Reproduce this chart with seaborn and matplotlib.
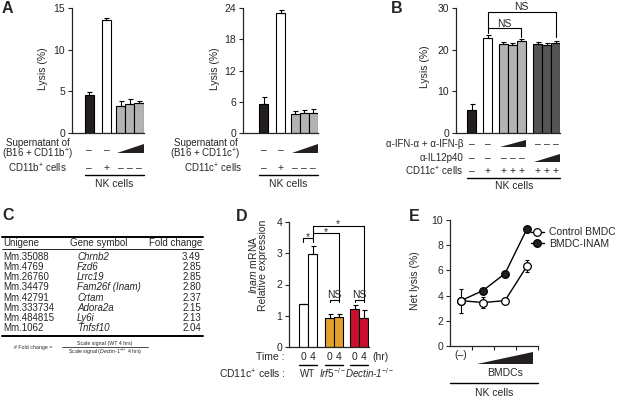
import numpy as np
import pandas as pd
import matplotlib
matplotlib.use("Agg")
import matplotlib.pyplot as plt
import matplotlib.transforms as mtrans
from matplotlib.patches import Polygon
from matplotlib.lines import Line2D
import seaborn as sns

# ------------------------------------------------------------------ data
# Panel A (left): NK cells + CD11b+ cells / supernatant
a1_groups = ["NK", "NK + CD11b", "Sup low", "Sup mid", "Sup high"]
a1_lysis = [4.6, 13.6, 3.3, 3.5, 3.6]
a1_err = [0.3, 0.15, 0.5, 0.6, 0.3]
a1_yticks = [0, 5, 10, 15]

# Panel A (right): NK cells + CD11c+ cells / supernatant
a2_groups = ["NK", "NK + CD11c", "Sup low", "Sup mid", "Sup high"]
a2_lysis = [5.5, 23.0, 3.7, 3.8, 3.9]
a2_err = [1.5, 0.6, 0.5, 0.7, 0.8]
a2_yticks = [0, 6, 12, 18, 24]

# Panel B: blocking antibodies
b_groups = ["NK", "NK + CD11c", "IFN low", "IFN mid", "IFN high",
            "IL12 low", "IL12 mid", "IL12 high"]
b_lysis = [5.5, 22.8, 21.3, 21.1, 22.0, 21.4, 21.1, 21.5]
b_err = [1.5, 0.7, 0.5, 0.6, 0.5, 0.4, 0.6, 0.7]
b_yticks = [0, 10, 20, 30]

# Panel C: table
c_header = ["Unigene", "Gene symbol", "Fold change"]
c_unigene = ["Mm.35088", "Mm.4769", "Mm.26760", "Mm.34479",
             "Mm.42791", "Mm.333734", "Mm.484815", "Mm.1062"]
c_symbol = ["Chrnb2", "Fzd6", "Lrrc19", "Fam26f (Inam)",
            "Crtam", "Adora2a", "Ly6i", "Tnfsf10"]
c_fold = ["3.49", "2.85", "2.85", "2.80", "2.37", "2.15", "2.13", "2.04"]

# Panel D: Inam mRNA
d_groups = ["WT 0", "WT 4", "Irf5 0", "Irf5 4", "Dectin 0", "Dectin 4"]
d_time = ["0", "4", "0", "4", "0", "4"]
d_expr = [1.37, 2.97, 0.93, 0.96, 1.21, 0.92]
d_err = [0.0, 0.27, 0.13, 0.09, 0.13, 0.28]
d_strains = ["WT", "$\\mathit{Irf5}^{-/-}$", "Dectin-1$^{-/-}$"]
d_yticks = [0, 1, 2, 3, 4]

# Panel E: net lysis vs BMDC dose
e_dose = [0, 1, 2, 3]
e_control = [3.6, 3.45, 3.6, 6.35]
e_control_err = [0.95, 0.45, 0.0, 0.45]
e_inam = [3.6, 4.4, 5.75, 9.3]
e_inam_err = [0.0, 0.2, 0.0, 0.0]
e_yticks = [0, 2, 4, 6, 8, 10]

# ------------------------------------------------------------------ style
sns.set_style("ticks")
plt.rcParams["font.family"] = ["Liberation Sans", "DejaVu Sans"]
plt.rcParams["mathtext.fontset"] = "custom"
plt.rcParams["mathtext.rm"] = "Liberation Sans"
plt.rcParams["mathtext.it"] = "Liberation Sans:italic"
plt.rcParams["mathtext.bf"] = "Liberation Sans:bold"
plt.rcParams["mathtext.sf"] = "Liberation Sans"
FS = 7.5
FT = 7

BLACK = "#231f20"
GREY = "#b3b3b3"
DARK = "#555555"
ORANGE = "#e3a02f"
RED = "#c8102e"

W, H = 617, 397
fig = plt.figure(figsize=(W / 100, H / 100), dpi=100)
fig.patch.set_facecolor("white")
pix = mtrans.Affine2D().scale(1 / W, -1 / H).translate(0, 1) + fig.transFigure


def add_ax(x0, y0, x1, y1):
    return fig.add_axes([x0 / W, 1 - y1 / H, (x1 - x0) / W, (y1 - y0) / H])


def xt(ax):
    return mtrans.blended_transform_factory(ax.transData, pix)


def style(ax, yticks):
    sns.despine(ax=ax)
    for s in ("left", "bottom"):
        ax.spines[s].set_linewidth(0.9)
    ax.set_yticks(yticks)
    ax.set_ylim(yticks[0], yticks[-1])
    ax.tick_params(axis="y", length=3, width=0.8, pad=2, labelsize=FS)
    ax.tick_params(axis="x", length=0, labelbottom=False)
    ax.set_xlabel("")
    ax.set_ylabel("")


def bars(ax, pos, vals, err, colors, labels):
    df = pd.DataFrame({"pos": pos, "val": vals, "grp": labels})
    sns.barplot(data=df, x="pos", y="val", hue="grp",
                palette=dict(zip(labels, colors)), native_scale=True,
                width=1.0, errorbar=None, edgecolor="black", linewidth=0.8,
                saturation=1, legend=False, ax=ax)
    ax.errorbar(pos, vals, yerr=[np.zeros(len(err)), err], fmt="none",
                ecolor="black", elinewidth=0.8, capsize=1.8, capthick=0.8,
                zorder=3)


def sign(ax, x, y, s, fs=FS, **kw):
    ax.text(x, y, s, transform=xt(ax), ha="center", va="center",
            fontsize=fs, clip_on=False, **kw)


def wedge(ax, xl, xr, ytop, ybot):
    p = Polygon([(xl, ybot), (xr, ybot), (xr, ytop)], closed=True,
                transform=xt(ax), facecolor=BLACK, edgecolor="none",
                clip_on=False)
    ax.add_artist(p)


def hline(ax, xl, xr, y, lw=1.0):
    ax.add_artist(Line2D([xl, xr], [y, y], transform=xt(ax), color="black",
                         lw=lw, clip_on=False))


def letter(x, y, s):
    fig.text(x, y, s, transform=pix, fontsize=11.5, fontweight="bold",
             ha="left", va="top")


# ------------------------------------------------------------------ Panel A1
pos_a = [0, 1.9, 3.5, 4.5, 5.5]
ax = add_ax(72, 8, 144, 133)
bars(ax, pos_a, a1_lysis, a1_err, [BLACK, "white", GREY, GREY, GREY], a1_groups)
style(ax, a1_yticks)
ax.set_xlim(-1.9, 6.05)
fig.text(43, 69, "Lysis (%)", transform=pix, rotation=90, ha="center",
         va="center", fontsize=FS)
for p, s in zip(pos_a[:2], ["–", "–"]):
    sign(ax, p, 150, s)
wedge(ax, pos_a[2] - 0.4, pos_a[4] + 0.5, 144, 153)
for p, s in zip(pos_a, ["–", "+", "–", "–", "–"]):
    sign(ax, p, 168, s)
hline(ax, pos_a[0] - 0.5, pos_a[-1] + 0.5, 175)
sign(ax, (pos_a[0] + pos_a[-1]) / 2, 184, "NK cells")
fig.text(73, 150, "Supernatant of\n(B16 + CD11b$^{+}$)", transform=pix,
         ha="right", va="center", multialignment="center", fontsize=FT,
         linespacing=0.9)
fig.text(67, 168, "CD11b$^{+}$ cells", transform=pix, ha="right",
         va="center", fontsize=FT)
letter(2, 1, "A")

# ------------------------------------------------------------------ Panel A2
ax = add_ax(243, 8, 318, 133)
bars(ax, pos_a, a2_lysis, a2_err, [BLACK, "white", GREY, GREY, GREY], a2_groups)
style(ax, a2_yticks)
ax.set_xlim(-2.33, 6.05)
fig.text(215, 69, "Lysis (%)", transform=pix, rotation=90, ha="center",
         va="center", fontsize=FS)
for p, s in zip(pos_a[:2], ["–", "–"]):
    sign(ax, p, 150, s)
wedge(ax, pos_a[2] - 0.4, pos_a[4] + 0.5, 144, 153)
for p, s in zip(pos_a, ["–", "+", "–", "–", "–"]):
    sign(ax, p, 168, s)
hline(ax, pos_a[0] - 0.5, pos_a[-1] + 0.5, 175)
sign(ax, (pos_a[0] + pos_a[-1]) / 2, 184, "NK cells")
fig.text(241, 150, "Supernatant of\n(B16 + CD11c$^{+}$)", transform=pix,
         ha="right", va="center", multialignment="center", fontsize=FT,
         linespacing=0.9)
fig.text(242, 168, "CD11c$^{+}$ cells", transform=pix, ha="right",
         va="center", fontsize=FT)

# ------------------------------------------------------------------ Panel B
pos_b = [0, 1.75, 3.5, 4.5, 5.5, 7.3, 8.3, 9.3]
ax = add_ax(456, 8, 560, 133)
bars(ax, pos_b, b_lysis, b_err,
     [BLACK, "white", GREY, GREY, GREY, DARK, DARK, DARK], b_groups)
style(ax, b_yticks)
ax.set_xlim(-1.78, 9.8)
fig.text(425, 67, "Lysis (%)", transform=pix, rotation=90, ha="center",
         va="center", fontsize=FS)
kw = dict(color="black", lw=0.8, clip_on=False)
ax.plot([pos_b[1], pos_b[1], pos_b[4], pos_b[4]], [24.0, 25.2, 25.2, 23.0], **kw)
ax.plot([pos_b[1], pos_b[1], pos_b[7], pos_b[7]], [25.2, 29.0, 29.0, 23.0], **kw)
ax.text((pos_b[1] + pos_b[4]) / 2, 26.1, "NS", ha="center", va="center",
        fontsize=FS, clip_on=False)
ax.text((pos_b[1] + pos_b[7]) / 2, 30.3, "NS", ha="center", va="center",
        fontsize=FS, clip_on=False)
ax.set_ylim(0, 30)
for p, s in zip(pos_b[:2] + pos_b[5:], ["–", "–", "–", "–", "–"]):
    sign(ax, p, 144, s)
wedge(ax, pos_b[2] - 0.4, pos_b[4] + 0.5, 140, 147)
for p, s in zip(pos_b[:5], ["–", "–", "–", "–", "–"]):
    sign(ax, p, 158, s)
wedge(ax, pos_b[5] - 0.4, pos_b[7] + 0.5, 154, 162)
for p, s in zip(pos_b, ["–", "+", "+", "+", "+", "+", "+", "+"]):
    sign(ax, p, 171, s)
hline(ax, pos_b[0] - 0.5, pos_b[-1] + 0.5, 178)
sign(ax, (pos_b[0] + pos_b[-1]) / 2, 186, "NK cells")
fig.text(464, 144, "α-IFN-α + α-IFN-β", transform=pix, ha="right",
         va="center", fontsize=FT)
fig.text(463, 158, "α-IL12p40", transform=pix, ha="right", va="center",
         fontsize=FT)
fig.text(463, 171, "CD11c$^{+}$ cells", transform=pix, ha="right",
         va="center", fontsize=FT)
letter(391, 1, "B")

# ------------------------------------------------------------------ Panel C
letter(2, 208, "C")
fig.add_artist(Line2D([2, 203], [237, 237], transform=pix, color="black", lw=1.4))
fig.add_artist(Line2D([2, 203], [248.5, 248.5], transform=pix, color="black", lw=0.6))
fig.add_artist(Line2D([2, 203], [336, 336], transform=pix, color="black", lw=1.4))
fig.text(3, 243, c_header[0], transform=pix, ha="left", va="center", fontsize=FT)
fig.text(70, 243, c_header[1], transform=pix, ha="left", va="center", fontsize=FT)
fig.text(202, 243, c_header[2], transform=pix, ha="right", va="center", fontsize=FT)
for i, (u, g, f) in enumerate(zip(c_unigene, c_symbol, c_fold)):
    y = 257 + 10.15 * i
    fig.text(3, y, u, transform=pix, ha="left", va="center", fontsize=FT)
    fig.text(77, y, g, transform=pix, ha="left", va="center", fontsize=FT,
             style="italic")
    fig.text(201, y, f, transform=pix, ha="right", va="center", fontsize=FT)
fig.text(14, 347, "# Fold change =", transform=pix, ha="left", va="center",
         fontsize=3.8)
fig.text(105, 343, "Scale signal (WT 4 hrs)", transform=pix, ha="center",
         va="center", fontsize=3.8)
fig.text(105, 351.5, "Scale signal ($\\mathit{Dectin}$-$\\mathit{1}^{-/-}$ 4 hrs)",
         transform=pix, ha="center", va="center", fontsize=3.8)
fig.add_artist(Line2D([62, 148], [347, 347], transform=pix, color="black", lw=0.5))

# ------------------------------------------------------------------ Panel D
pos_d = [0, 1, 2.9, 3.9, 5.65, 6.65]
ax = add_ax(289, 222, 369, 347)
bars(ax, pos_d, d_expr, d_err, ["white", "white", ORANGE, ORANGE, RED, RED],
     d_groups)
style(ax, d_yticks)
ax.set_xlim(-1.6, 7.25)
fig.text(253, 265, "$\\mathit{Inam}$ mRNA", transform=pix, rotation=90,
         ha="center", va="center", fontsize=FS)
fig.text(263, 265, "Relative expression", transform=pix, rotation=90,
         ha="center", va="center", fontsize=FS)
kw = dict(color="black", lw=0.8, clip_on=False)
ax.plot([pos_d[0], pos_d[0], pos_d[1], pos_d[1]], [3.37, 3.48, 3.48, 3.37], **kw)
ax.text((pos_d[0] + pos_d[1]) / 2, 3.52, "*", ha="center", va="center",
        fontsize=FS, clip_on=False)
ax.plot([pos_d[1], pos_d[1], pos_d[3], pos_d[3]], [3.48, 3.64, 3.64, 1.5], **kw)
ax.text((pos_d[1] + pos_d[3]) / 2, 3.69, "*", ha="center", va="center",
        fontsize=FS, clip_on=False)
ax.plot([pos_d[1], pos_d[1], pos_d[5], pos_d[5]], [3.64, 3.88, 3.88, 1.5], **kw)
ax.text((pos_d[1] + pos_d[5]) / 2, 3.93, "*", ha="center", va="center",
        fontsize=FS, clip_on=False)
for i in (2, 4):
    ax.plot([pos_d[i], pos_d[i], pos_d[i + 1], pos_d[i + 1]],
            [1.43, 1.5, 1.5, 1.43], **kw)
    ax.text((pos_d[i] + pos_d[i + 1]) / 2, 1.68, "NS", ha="center",
            va="center", fontsize=FS, clip_on=False)
ax.set_ylim(0, 4)
for p, s in zip(pos_d, d_time):
    sign(ax, p, 357, s)
fig.text(372, 357, "(hr)", transform=pix, ha="left", va="center", fontsize=FS)
fig.text(284, 357.5, "Time :", transform=pix, ha="right", va="center", fontsize=FS)
fig.text(286, 374, "CD11c$^{+}$ cells :", transform=pix, ha="right",
         va="center", fontsize=FS)
for i in (0, 2, 4):
    hline(ax, pos_d[i] - 0.5, pos_d[i + 1] + 0.5, 364.5, lw=1.0)
sign(ax, (pos_d[0] + pos_d[1]) / 2, 374, d_strains[0], fs=FT)
sign(ax, (pos_d[2] + pos_d[3]) / 2 - 0.15, 373, d_strains[1], fs=FT)
ax.text((pos_d[4] + pos_d[5]) / 2 + 1.2, 373, d_strains[2], transform=xt(ax),
        ha="center", va="center", fontsize=FT, style="italic", clip_on=False)
letter(236, 209, "D")

# ------------------------------------------------------------------ Panel E
ax = add_ax(450, 220, 538, 346)
ax.errorbar(e_dose, e_inam, yerr=e_inam_err, fmt="none", ecolor="black",
            elinewidth=0.8, capsize=1.5, capthick=0.8, zorder=1)
ax.errorbar(e_dose, e_control, yerr=e_control_err, fmt="none", ecolor="black",
            elinewidth=0.8, capsize=1.5, capthick=0.8, zorder=1)
df_e = pd.DataFrame({"dose": e_dose * 2, "lysis": e_control + e_inam,
                     "group": ["Control BMDC"] * 4 + ["BMDC-INAM"] * 4})
sns.lineplot(data=df_e[df_e.group == "BMDC-INAM"], x="dose", y="lysis",
             color="black", marker="o", markersize=5.5, markerfacecolor=BLACK,
             markeredgecolor="black", markeredgewidth=0.9, linewidth=1.0,
             errorbar=None, ax=ax, zorder=2)
sns.lineplot(data=df_e[df_e.group == "Control BMDC"], x="dose", y="lysis",
             color="black", marker="o", markersize=5.5, markerfacecolor="white",
             markeredgecolor="black", markeredgewidth=0.9, linewidth=1.0,
             errorbar=None, ax=ax, zorder=3)
style(ax, e_yticks)
ax.set_xlim(-0.5, 3.5)
ax.set_xticks([0.5, 1.5, 2.5, 3.5])
ax.tick_params(axis="x", length=3, width=0.8, labelbottom=False)
fig.text(415, 281, "Net lysis (%)", transform=pix, rotation=90, ha="center",
         va="center", fontsize=FS)
handles = [Line2D([], [], color="black", lw=1.0, marker="o", ms=5.5,
                  mfc="white", mec="black", mew=0.9),
           Line2D([], [], color="black", lw=1.0, marker="o", ms=5.5,
                  mfc=BLACK, mec="black", mew=0.9)]
ax.legend(handles, ["Control BMDC", "BMDC-INAM"], loc="center left",
          bbox_to_anchor=(531, 238), bbox_transform=pix, frameon=False,
          fontsize=FS, handlelength=1.2, handletextpad=0.5,
          labelspacing=0.1, borderpad=0, borderaxespad=0)
sign(ax, e_dose[0], 355, "(–)")
wedge(ax, 0.73, 3.27, 352, 364)
sign(ax, 2.0, 373, "BMDCs")
hline(ax, -0.5, 3.5, 383)
sign(ax, 1.5, 393, "NK cells")
letter(409, 209, "E")

fig.savefig("out.png", dpi=100, facecolor="white")
